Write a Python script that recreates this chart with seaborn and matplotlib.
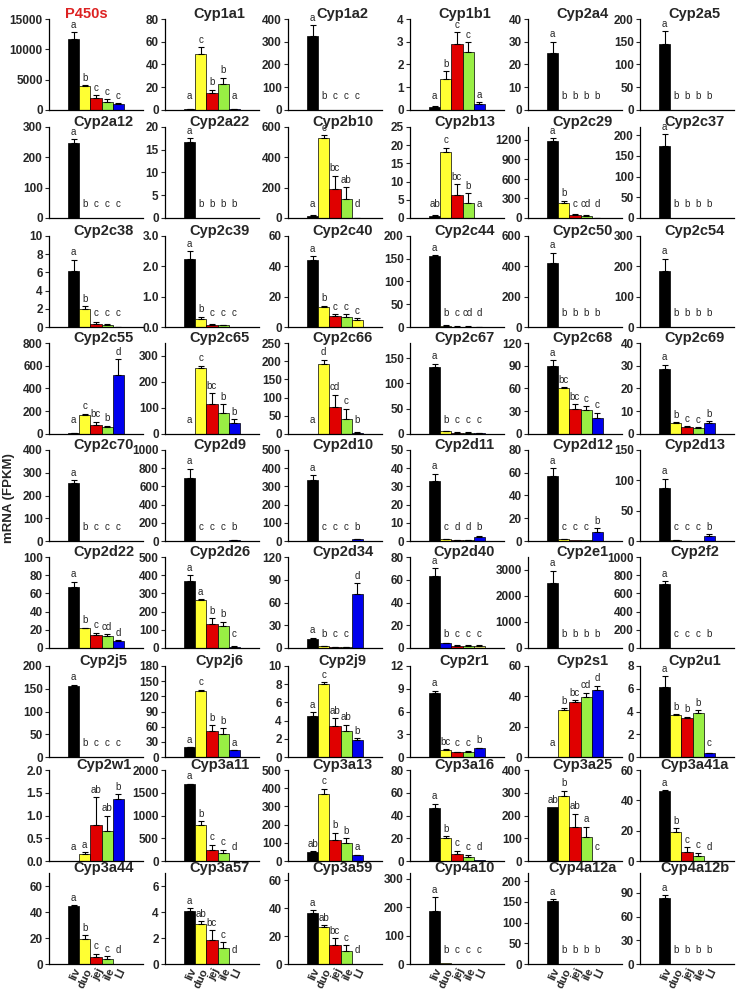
import numpy as np
import matplotlib
matplotlib.use('Agg')
import matplotlib.pyplot as plt
import seaborn as sns

# Gewebe und Farben
tissues = ['liv', 'duo', 'jej', 'ile', 'LI']
tissue_colors = ['#000000', '#ffff33', '#e00000', '#99ee44', '#0000ee']

genes = ['P450s', 'Cyp1a1', 'Cyp1a2', 'Cyp1b1', 'Cyp2a4', 'Cyp2a5',
         'Cyp2a12', 'Cyp2a22', 'Cyp2b10', 'Cyp2b13', 'Cyp2c29', 'Cyp2c37',
         'Cyp2c38', 'Cyp2c39', 'Cyp2c40', 'Cyp2c44', 'Cyp2c50', 'Cyp2c54',
         'Cyp2c55', 'Cyp2c65', 'Cyp2c66', 'Cyp2c67', 'Cyp2c68', 'Cyp2c69',
         'Cyp2c70', 'Cyp2d9', 'Cyp2d10', 'Cyp2d11', 'Cyp2d12', 'Cyp2d13',
         'Cyp2d22', 'Cyp2d26', 'Cyp2d34', 'Cyp2d40', 'Cyp2e1', 'Cyp2f2',
         'Cyp2j5', 'Cyp2j6', 'Cyp2j9', 'Cyp2r1', 'Cyp2s1', 'Cyp2u1',
         'Cyp2w1', 'Cyp3a11', 'Cyp3a13', 'Cyp3a16', 'Cyp3a25', 'Cyp3a41a',
         'Cyp3a44', 'Cyp3a57', 'Cyp3a59', 'Cyp4a10', 'Cyp4a12a', 'Cyp4a12b']

# mittlere FPKM je Gewebe (liv, duo, jej, ile, LI)
means = [
    [11700, 4000, 1900, 1400, 1000], [0.8, 49.5, 15, 22.5, 0.8], [325, 0.6, 0.4, 0.3, 0.3],
    [0.15, 1.35, 2.92, 2.57, 0.28], [25, 0.1, 0.05, 0.05, 0.05], [145, 0.5, 0.3, 0.2, 0.2],
    [248, 0.5, 0.3, 0.2, 0.2], [16.7, 0.05, 0.03, 0.03, 0.03], [15, 528, 190, 122, 2],
    [0.6, 18, 6.3, 4.2, 0.05], [1190, 225, 45, 30, 3], [175, 0.3, 0.2, 0.2, 0.2],
    [6.1, 2.0, 0.35, 0.22, 0.03], [2.25, 0.28, 0.08, 0.05, 0.01], [44, 13.5, 7.5, 6.8, 4.7],
    [155, 3, 1, 1, 0.3], [420, 1, 0.5, 0.5, 0.5], [185, 1, 0.5, 0.5, 0.5],
    [8, 163, 83, 62, 515], [0.5, 253, 115, 82, 43], [0.3, 192, 73, 42, 4],
    [132, 5, 2.5, 2.5, 2], [90, 60, 33, 31, 21], [28.5, 5, 3, 2.5, 5],
    [257, 0.5, 0.3, 0.3, 0.3], [695, 1, 0.5, 0.5, 8], [333, 1, 0.5, 0.5, 10],
    [33, 1, 0.4, 0.4, 2.2], [57, 1.5, 0.5, 0.5, 8], [88, 1, 0.5, 0.5, 9],
    [67, 22, 14, 13, 8], [370, 265, 130, 120, 8], [12, 2, 1, 1, 71],
    [63, 4, 2, 2, 2], [2500, 10, 5, 5, 8], [705, 2, 1, 1, 3],
    [155, 0.5, 0.3, 0.3, 0.3], [19, 130, 51, 46, 13], [4.5, 8.0, 3.45, 2.85, 1.85],
    [8.4, 0.9, 0.6, 0.7, 1.2], [0.1, 31, 36, 39.5, 44], [6.15, 3.65, 3.45, 3.85, 0.35],
    [0.01, 0.15, 0.8, 0.65, 1.37], [1690, 800, 250, 170, 3], [48, 370, 118, 97, 32],
    [47, 20, 6, 3.5, 0.5], [237, 287, 148, 106, 0.5], [46, 19, 6, 3.5, 0.3],
    [45, 19.5, 5.5, 3.8, 0.3], [4.1, 3.1, 1.85, 1.2, 0.02], [36.5, 26.5, 13.5, 9.5, 0.3],
    [187, 5, 1, 0.5, 0.5], [153, 0.5, 0.3, 0.3, 0.3], [84, 0.3, 0.2, 0.2, 0.2],
]

# Standardfehler (nur nach oben gezeichnet)
sems = [
    [1100, 150, 500, 400, 150], [0.3, 6, 3, 6, 0.3], [48, 0, 0, 0, 0],
    [0.03, 0.35, 0.5, 0.4, 0.07], [5, 0, 0, 0, 0], [28, 0, 0, 0, 0],
    [12, 0, 0, 0, 0], [0.8, 0, 0, 0, 0], [3, 18, 90, 80, 0.5],
    [0.2, 1.3, 3, 2.7, 0], [40, 40, 15, 10, 1], [27, 0, 0, 0, 0],
    [1.3, 0.3, 0.15, 0.12, 0.01], [0.25, 0.06, 0.02, 0.01, 0], [2.5, 0.5, 1.2, 1.5, 1.2],
    [3, 0.3, 0.2, 0.2, 0.1], [70, 0, 0, 0, 0], [40, 0, 0, 0, 0],
    [2, 15, 25, 12, 140], [0, 10, 42, 33, 13], [0, 12, 35, 28, 1],
    [7, 1, 0.5, 0.5, 0.5], [7, 1.5, 6, 6, 7], [2, 0.3, 0.6, 0.5, 0.7],
    [12, 0, 0, 0, 0], [100, 0, 0, 0, 2], [30, 0, 0, 0, 2],
    [4, 0.3, 0.1, 0.1, 0.4], [7, 0.3, 0, 0, 3.5], [15, 0.2, 0, 0, 2],
    [6, 0.5, 3, 2.5, 0.5], [30, 3, 35, 25, 1], [1.5, 0.3, 0.2, 0.2, 15],
    [7, 0.5, 0.3, 0.3, 0.3], [480, 0, 0, 0, 0], [30, 0, 0, 0, 0],
    [4, 0, 0, 0, 0], [1, 3, 12, 11, 1], [0.4, 0.2, 0.8, 0.7, 0.2],
    [0.35, 0.1, 0.1, 0.1, 0.05], [0, 1.2, 1.5, 3, 3], [0.95, 0.15, 0.1, 0.25, 0.03],
    [0, 0.05, 0.6, 0.35, 0.1], [10, 80, 110, 80, 1], [6, 28, 38, 28, 3],
    [3.5, 2, 3, 2, 0], [0, 22, 60, 45, 0], [0.8, 2.5, 3, 2, 0],
    [0.5, 2.5, 2.5, 2, 0], [0.2, 0.2, 0.75, 0.5, 0], [2, 1.5, 5, 4, 0],
    [48, 0, 0, 0, 0], [4, 0, 0, 0, 0], [3, 0, 0, 0, 0],
]

# Signifikanzbuchstaben
letters = [
    'a b c c c', 'a c b b a', 'a b c c c', 'a b c c a', 'a b b b b', 'a b b b b',
    'a b c c c', 'a b b b b', 'a c bc ab d', 'ab c bc b a', 'a b c cd d', 'a b b b b',
    'a b c c c', 'a b c c c', 'a b c c c', 'a b c cd d', 'a b b b b', 'a b b b b',
    'a c bc b d', 'a c bc b b', 'a d cd c b', 'a b c c c', 'a bc bc c c', 'a b c c b',
    'a b c c c', 'a c c c b', 'a c c c b', 'a c d d b', 'a c c c b', 'a c c c b',
    'a b c cd d', 'a a b b c', 'a b c c d', 'a b c c c', 'a b b b b', 'a c c c b',
    'a b c c c', 'a c b b a', 'a c ab ab b', 'a bc c c b', 'a b bc cd d', 'a b b b c',
    'a a ab ab b', 'a b c c d', 'ab c b b a', 'a b c c d', 'ab b ab a c', 'a b c c d',
    'a b c c d', 'a ab bc c d', 'a ab bc c d', 'a b c c c', 'a b b b b', 'a b b b b',
]

# y-Achse: Obergrenze und Tickabstand
ytop = [15000, 80, 400, 4, 40, 200,
        300, 20, 600, 25, 1400, 220,
        10, 3, 60, 200, 600, 300,
        800, 350, 250, 180, 120, 40,
        400, 1000, 500, 50, 80, 150,
        100, 500, 120, 80, 3500, 1000,
        200, 180, 10, 12, 60, 8,
        2, 2000, 500, 80, 400, 60,
        70, 7, 65, 320, 220, 115]
ystep = [5000, 20, 100, 1, 10, 50,
         100, 5, 200, 5, 300, 50,
         2, 1, 20, 50, 200, 100,
         200, 100, 50, 50, 30, 10,
         100, 200, 100, 10, 20, 50,
         20, 100, 30, 20, 1000, 200,
         50, 30, 2, 3, 20, 2,
         0.5, 500, 100, 20, 100, 20,
         20, 2, 20, 100, 50, 30]

# abweichende Balkenfarben wie im Original
color_override = {
    'Cyp2c40': ['#000000', '#ffff33', '#e00000', '#99ee44', '#ffff33'],
    'Cyp2d40': ['#000000', '#0000ee', '#e00000', '#99ee44', '#e0e070'],
}
one_decimal = {'Cyp2c39', 'Cyp2w1'}

sns.set_style('ticks')
plt.rcParams['font.family'] = ['Liberation Sans', 'DejaVu Sans']

W, H = 738, 996
fig = plt.figure(figsize=(W / 100, H / 100), dpi=100)

col_left = [49, 165, 288, 410, 528, 640]
row_zero = [110, 218, 327, 434, 541, 648, 757, 861, 964]
ax_w, ax_h = 94, 91

for i, gene in enumerate(genes):
    r, c = divmod(i, 6)
    ax = fig.add_axes([col_left[c] / W, (H - row_zero[r]) / H, ax_w / W, ax_h / H])
    vals = np.array(means[i], dtype=float)
    errs = np.array(sems[i], dtype=float)
    cols = color_override.get(gene, tissue_colors)
    sns.barplot(x=tissues, y=vals, hue=tissues, palette=dict(zip(tissues, cols)),
                legend=False, width=1.0, saturation=1, edgecolor='black',
                linewidth=0.5, ax=ax)
    mask = errs > 0
    xs = np.arange(5)
    ax.errorbar(xs[mask], vals[mask], yerr=[np.zeros(mask.sum()), errs[mask]],
                fmt='none', ecolor='black', elinewidth=0.8, capsize=2.2, capthick=0.8)

    top = ytop[i]
    for x, v, e, lab in zip(xs, vals, errs, letters[i].split()):
        y = max(v + e + 0.025 * top, 0.1 * top)
        ax.text(x, y, lab, ha='center', va='bottom', fontsize=7)

    ax.set_xlim(-2.2, 6.2)
    ax.set_ylim(0, top)
    step = ystep[i]
    ticks = np.arange(0, top + 1e-9, step)
    ax.set_yticks(ticks)
    if gene in one_decimal:
        ax.set_yticklabels([f'{t:.1f}' for t in ticks], fontweight='bold')
    else:
        ax.set_yticklabels([f'{t:g}' for t in ticks], fontweight='bold')
    ax.tick_params(axis='y', labelsize=8.5, length=3, width=0.8, pad=1.5)
    ax.set_xlabel('')
    ax.set_ylabel('')
    if r == 8:
        ax.set_xticks(xs)
        ax.set_xticklabels(tissues, rotation=65, ha='right', va='top',
                           rotation_mode='anchor', fontweight='bold', fontsize=8)
        ax.tick_params(axis='x', length=0, pad=2)
    else:
        ax.set_xticks([])
    for s in ['top', 'right']:
        ax.spines[s].set_visible(False)
    for s in ['left', 'bottom']:
        ax.spines[s].set_linewidth(0.9)
        ax.spines[s].set_color('black')

    if gene == 'P450s':
        ax.text(0.4, 1.06, gene, transform=ax.transAxes, ha='center', va='center',
                fontsize=10.5, fontweight='bold', color='#dd2222')
    else:
        ax.text(0.58, 1.05, gene, transform=ax.transAxes, ha='center', va='center',
                fontsize=10.5, fontweight='bold')

fig.text(0.012, 0.5, 'mRNA (FPKM)', rotation=90, ha='center', va='center',
         fontsize=9.5, fontweight='bold')

fig.savefig('out.png', dpi=100)
